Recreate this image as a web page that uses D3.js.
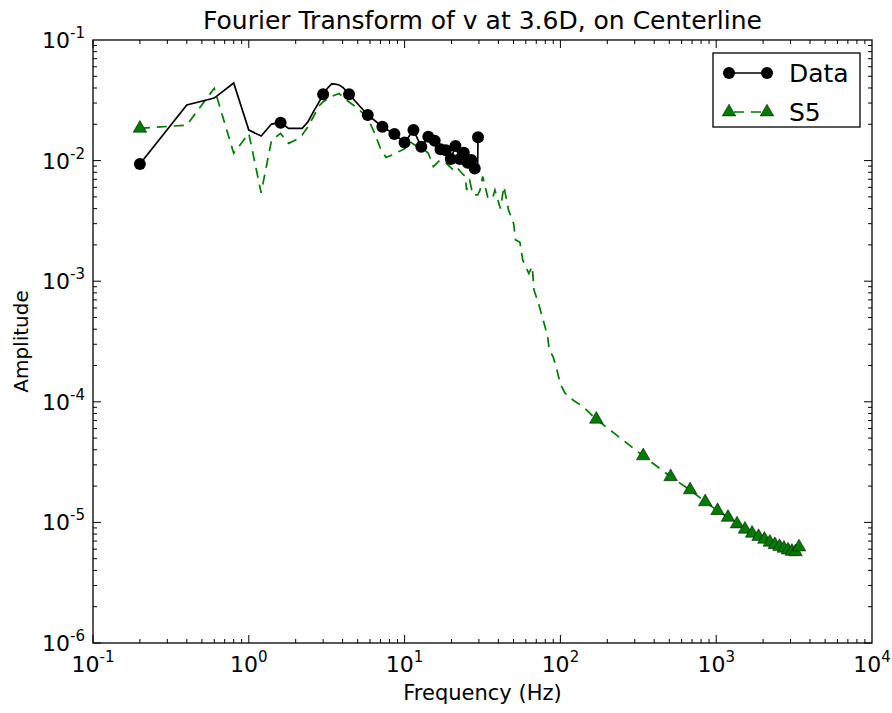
<!DOCTYPE html>
<html><head><meta charset="utf-8">
<script src="https://cdn.jsdelivr.net/npm/d3@7"></script>
<style>body{margin:0;background:#fff;} text{font-family:"DejaVu Sans",sans-serif;}</style>
</head><body><svg id="c" width="892" height="713"></svg>
<script>
const title = "Fourier Transform of v at 3.6D, on Centerline";
const xLabel = "Frequency (Hz)";
const yLabel = "Amplitude";
const xTickExps = [-1,0,1,2,3,4];
const yTickExps = [-1,-2,-3,-4,-5,-6];
const legendLabels = ["Data","S5"];

const dataFreq = [0.2,0.4,0.6,0.8,1.0,1.2,1.4,1.6,1.8,2.0,2.2,2.4,2.6,2.8,3.0,3.2,3.4,3.6,3.8,4.0,4.2,4.4,5.8,7.2,8.6,10,11.4,12.8,14.2,15.6,17,18.4,19.8,21.2,22.6,24,25.4,26.8,28.2,29.4,29.6];
const dataAmp  = [0.00937,0.0289,0.033,0.044,0.0179,0.016,0.0201,0.0206,0.0185,0.0185,0.0185,0.021,0.0255,0.030,0.0355,0.0398,0.0432,0.043,0.0424,0.0406,0.038,0.0355,0.0239,0.0191,0.0166,0.0141,0.0179,0.0130,0.0158,0.0146,0.0124,0.0122,0.0103,0.0132,0.0103,0.0116,0.0096,0.0101,0.0086,0.0085,0.0156];
const dataMarkFreq = [0.2,1.6,3.0,4.4,5.8,7.2,8.6,10,11.4,12.8,14.2,15.6,17,18.4,19.8,21.2,22.6,24,25.4,26.8,28.2,29.6];

const s5Freq = [0.2,0.4,0.6,0.8,1.0,1.2,1.4,1.6,1.8,2.0,2.2,2.4,2.6,2.8,3.0,3.4,3.8,4.2,5.0,5.8,6.4,7.0,7.6,8.4,9.2,10.0,10.8,11.6,12.8,14.2,15.3,16.9,18.5,20.5,21.5,23.0,24.5,25.0,26.2,27.4,29.5,30.5,31.7,34.4,36.9,38,41.2,43.4,46.4,50.1,51.6,55,57.3,62.7,66,67.6,72.2,78.5,82.7,84.8,89.7,95,99.6,107,121,140,170,340,510,680,850,1020,1190,1360,1530,1700,1870,2040,2210,2380,2550,2720,2890,3060,3230,3400];
const s5Amp  = [0.0185,0.0197,0.0398,0.0115,0.0168,0.0054,0.0148,0.0168,0.0139,0.0148,0.0163,0.0191,0.0231,0.0280,0.0308,0.034,0.036,0.032,0.0272,0.0226,0.017,0.0126,0.0106,0.0112,0.0119,0.0125,0.0144,0.0135,0.0129,0.0115,0.0089,0.0101,0.0095,0.0084,0.0089,0.0080,0.0074,0.0057,0.0068,0.0052,0.0052,0.0057,0.0074,0.0048,0.0050,0.0057,0.0040,0.0061,0.0039,0.0030,0.0022,0.0021,0.0015,0.00116,0.00132,0.00085,0.00066,0.00045,0.00035,0.00027,0.000237,0.000184,0.000142,0.000118,0.000103,0.000091,7.16e-5,3.56e-5,2.39e-5,1.86e-5,1.48e-5,1.25e-5,1.10e-5,9.7e-6,8.77e-6,8.12e-6,7.62e-6,7.24e-6,6.84e-6,6.53e-6,6.29e-6,6.1e-6,5.9e-6,5.75e-6,5.7e-6,6.25e-6];
const s5MarkFreq = [0.2,170,340,510,680,850,1020,1190,1360,1530,1700,1870,2040,2210,2380,2550,2720,2890,3060,3230,3400];

const L=93, R=872, T=40, B=643;
const svg = d3.select("#c");
const x = d3.scaleLog().domain([0.1,1e4]).range([L,R]);
const y = d3.scaleLog().domain([1e-6,0.1]).range([B,T]);
const green = "#007a00";

svg.append("defs").append("clipPath").attr("id","clip")
  .append("rect").attr("x",L).attr("y",T).attr("width",R-L).attr("height",B-T);

const g = svg.append("g").attr("clip-path","url(#clip)");
const line = d3.line().x(d=>x(d[0])).y(d=>y(d[1]));

const s5 = s5Freq.map((f,i)=>[f,s5Amp[i]]);
const dat = dataFreq.map((f,i)=>[f,dataAmp[i]]);

g.append("path").datum(s5).attr("d",line).attr("fill","none")
  .attr("stroke",green).attr("stroke-width",1.7).attr("stroke-dasharray","10,7");
g.append("path").datum(dat).attr("d",line).attr("fill","none")
  .attr("stroke","#000").attr("stroke-width",1.7);

const tri = d3.symbol().type(d3.symbolTriangle).size(80);
g.selectAll(".tri").data(s5.filter(d=>s5MarkFreq.includes(d[0]))).enter()
  .append("path").attr("d",tri).attr("transform",d=>`translate(${x(d[0])},${y(d[1])})`)
  .attr("fill",green).attr("stroke","#000").attr("stroke-width",0.5);
g.selectAll(".dot").data(dat.filter(d=>dataMarkFreq.includes(d[0]))).enter()
  .append("circle").attr("cx",d=>x(d[0])).attr("cy",d=>y(d[1])).attr("r",6).attr("fill","#000");

// ticks
const ax = svg.append("g").attr("stroke","#000").attr("stroke-width",1);
for (let e=-1;e<4;e++){
  for (let k=1;k<10;k++){
    const v = k*Math.pow(10,e);
    const px = x(v), len = k===1?8:4;
    ax.append("line").attr("x1",px).attr("x2",px).attr("y1",B).attr("y2",B-len);
    ax.append("line").attr("x1",px).attr("x2",px).attr("y1",T).attr("y2",T+len);
  }
}
for (let e=-6;e<-1;e++){
  for (let k=1;k<10;k++){
    const v = k*Math.pow(10,e);
    const py = y(v), len = k===1?8:4;
    ax.append("line").attr("y1",py).attr("y2",py).attr("x1",L).attr("x2",L+len);
    ax.append("line").attr("y1",py).attr("y2",py).attr("x1",R).attr("x2",R-len);
  }
}
svg.append("rect").attr("x",L).attr("y",T).attr("width",R-L).attr("height",B-T)
  .attr("fill","none").attr("stroke","#000").attr("stroke-width",1.3);

// tick labels
xTickExps.forEach(e=>{
  const t = svg.append("text").attr("x",x(Math.pow(10,e))).attr("y",672)
    .attr("text-anchor","middle").attr("font-size",22).attr("fill","#000");
  t.append("tspan").text("10");
  t.append("tspan").attr("dy",-10).attr("font-size",15).text(String(e));
});
yTickExps.forEach(e=>{
  const t = svg.append("text").attr("x",85).attr("y",y(Math.pow(10,e))+8)
    .attr("text-anchor","end").attr("font-size",22).attr("fill","#000");
  t.append("tspan").text("10");
  t.append("tspan").attr("dy",-10).attr("font-size",15).text(String(e));
});

svg.append("text").attr("x",(L+R)/2).attr("y",29).attr("text-anchor","middle")
  .attr("font-size",25).text(title);
svg.append("text").attr("x",(L+R)/2).attr("y",700).attr("text-anchor","middle")
  .attr("font-size",21).text(xLabel);
svg.append("text").attr("transform",`translate(28,${(T+B)/2}) rotate(-90)`)
  .attr("text-anchor","middle").attr("font-size",20).text(yLabel);

// legend
const lg = svg.append("g");
lg.append("rect").attr("x",713).attr("y",53).attr("width",147).attr("height",74)
  .attr("fill","#fff").attr("stroke","#000").attr("stroke-width",1.3);
lg.append("line").attr("x1",729).attr("x2",767).attr("y1",73).attr("y2",73).attr("stroke","#000").attr("stroke-width",1.7);
[729,767].forEach(px=>lg.append("circle").attr("cx",px).attr("cy",73).attr("r",6).attr("fill","#000"));
lg.append("line").attr("x1",729).attr("x2",767).attr("y1",112).attr("y2",112).attr("stroke",green).attr("stroke-width",1.7).attr("stroke-dasharray","10,7").attr("stroke-dashoffset",-5);
[729,767].forEach(px=>lg.append("path").attr("d",tri).attr("transform",`translate(${px},112)`).attr("fill",green).attr("stroke","#000").attr("stroke-width",0.5));
lg.append("text").attr("x",789).attr("y",82).attr("font-size",25).text(legendLabels[0]);
lg.append("text").attr("x",789).attr("y",121).attr("font-size",25).text(legendLabels[1]);
</script></body></html>
